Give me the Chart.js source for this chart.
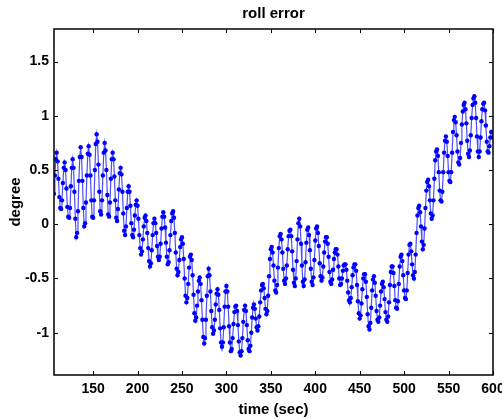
<!DOCTYPE html>
<html>
<head>
<meta charset="utf-8">
<title>roll error</title>
<script src="https://cdn.jsdelivr.net/npm/chart.js@4.4.1/dist/chart.umd.min.js"></script>
<style>
    html, body { margin: 0; padding: 0; background: #fff; }
    #rollChart { display: block; }
</style>
</head>
<body>
<canvas id="rollChart" width="502" height="419"></canvas>
<script>
// sampling of the roll error trace (seconds)
const startTime = 106;
const sampleStep = 1;

// roll error in degrees, one value per second from t = 106 to t = 600
const rollError = [
    0.28, 0.45, 0.60, 0.66,
    0.58, 0.42, 0.25, 0.15, 0.14, 0.22, 0.38, 0.52, 0.57, 0.50,
    0.33, 0.16, 0.07, 0.06, 0.15, 0.35, 0.52, 0.60, 0.52, 0.30,
    0.05, -0.12, -0.08, 0.12, 0.40, 0.62, 0.71, 0.62, 0.40, 0.15,
    -0.02, 0.01, 0.20, 0.45, 0.65, 0.72, 0.64, 0.45, 0.22, 0.07,
    0.06, 0.22, 0.50, 0.74, 0.83, 0.76, 0.55, 0.30, 0.12, 0.09,
    0.22, 0.45, 0.66, 0.75, 0.68, 0.50, 0.27, 0.09, 0.07, 0.20,
    0.42, 0.60, 0.66, 0.60, 0.44, 0.22, 0.06, 0.03, 0.14, 0.32,
    0.47, 0.52, 0.46, 0.30, 0.10, -0.06, -0.10, -0.02, 0.15, 0.30,
    0.35, 0.30, 0.17, 0.01, -0.10, -0.12, -0.05, 0.08, 0.18, 0.22,
    0.17, 0.05, -0.10, -0.22, -0.28, -0.25, -0.14, -0.02, 0.06, 0.08,
    0.03, -0.08, -0.22, -0.34, -0.39, -0.36, -0.24, -0.10, 0.01, 0.05,
    0.01, -0.08, -0.20, -0.30, -0.33, -0.30, -0.18, -0.04, 0.07, 0.11,
    0.07, -0.03, -0.17, -0.30, -0.37, -0.35, -0.24, -0.10, 0.03, 0.10,
    0.12, 0.06, -0.08, -0.26, -0.41, -0.47, -0.44, -0.33, -0.21, -0.14,
    -0.12, -0.18, -0.32, -0.50, -0.66, -0.72, -0.68, -0.55, -0.40, -0.30,
    -0.28, -0.33, -0.47, -0.65, -0.82, -0.89, -0.86, -0.75, -0.62, -0.52,
    -0.49, -0.55, -0.70, -0.88, -1.04, -1.10, -1.05, -0.88, -0.66, -0.48,
    -0.41, -0.47, -0.62, -0.80, -0.95, -1.01, -0.98, -0.88, -0.74, -0.64,
    -0.60, -0.65, -0.79, -0.96, -1.09, -1.13, -1.09, -0.95, -0.76, -0.62,
    -0.57, -0.62, -0.76, -0.94, -1.09, -1.17, -1.15, -1.05, -0.92, -0.81,
    -0.76, -0.75, -0.80, -0.93, -1.08, -1.18, -1.21, -1.17, -1.05, -0.90,
    -0.79, -0.75, -0.80, -0.93, -1.07, -1.15, -1.17, -1.12, -1.00, -0.86,
    -0.77, -0.74, -0.78, -0.87, -0.95, -0.98, -0.94, -0.85, -0.72, -0.61,
    -0.56, -0.55, -0.59, -0.68, -0.78, -0.83, -0.80, -0.66, -0.48, -0.32,
    -0.23, -0.21, -0.26, -0.38, -0.52, -0.61, -0.63, -0.56, -0.40, -0.22,
    -0.11, -0.09, -0.14, -0.26, -0.41, -0.52, -0.55, -0.50, -0.38, -0.23,
    -0.11, -0.06, -0.05, -0.11, -0.25, -0.42, -0.54, -0.57, -0.50, -0.34,
    -0.14, 0.01, 0.05, -0.02, -0.18, -0.38, -0.53, -0.57, -0.51, -0.35,
    -0.17, -0.05, -0.03, -0.10, -0.24, -0.41, -0.53, -0.56, -0.49, -0.33,
    -0.15, -0.04, -0.02, -0.08, -0.20, -0.36, -0.48, -0.52, -0.49, -0.39,
    -0.26, -0.16, -0.12, -0.12, -0.18, -0.30, -0.44, -0.53, -0.55, -0.51,
    -0.42, -0.32, -0.26, -0.23, -0.23, -0.28, -0.39, -0.50, -0.56, -0.55,
    -0.50, -0.43, -0.38, -0.37, -0.37, -0.42, -0.52, -0.63, -0.70, -0.72,
    -0.68, -0.58, -0.47, -0.40, -0.37, -0.37, -0.43, -0.56, -0.71, -0.82,
    -0.87, -0.84, -0.73, -0.60, -0.50, -0.46, -0.46, -0.53, -0.67, -0.83,
    -0.94, -0.97, -0.91, -0.77, -0.61, -0.51, -0.48, -0.54, -0.66, -0.80,
    -0.88, -0.90, -0.86, -0.75, -0.62, -0.55, -0.53, -0.58, -0.69, -0.81,
    -0.88, -0.90, -0.85, -0.72, -0.56, -0.44, -0.39, -0.39, -0.45, -0.57,
    -0.70, -0.77, -0.78, -0.71, -0.55, -0.39, -0.30, -0.28, -0.34, -0.47,
    -0.61, -0.68, -0.69, -0.61, -0.45, -0.28, -0.19, -0.18, -0.25, -0.37,
    -0.47, -0.50, -0.44, -0.28, -0.08, 0.08, 0.15, 0.17, 0.11, -0.02,
    -0.16, -0.23, -0.19, -0.04, 0.15, 0.31, 0.39, 0.41, 0.35, 0.22,
    0.10, 0.05, 0.08, 0.22, 0.42, 0.59, 0.67, 0.69, 0.63, 0.48,
    0.31, 0.22, 0.21, 0.30, 0.48, 0.66, 0.77, 0.81, 0.76, 0.63,
    0.48, 0.40, 0.39, 0.48, 0.66, 0.85, 0.96, 0.99, 0.94, 0.82,
    0.67, 0.57, 0.55, 0.61, 0.75, 0.92, 1.04, 1.10, 1.12, 1.06,
    0.93, 0.77, 0.65, 0.62, 0.68, 0.82, 0.98, 1.10, 1.16, 1.18,
    1.12, 0.98, 0.81, 0.67, 0.62, 0.67, 0.80, 0.95, 1.06, 1.11,
    1.12, 1.05, 0.91, 0.76, 0.67, 0.66, 0.72, 0.80, 0.85, 0.85,
    0.80
];

const xTicks = [150, 200, 250, 300, 350, 400, 450, 500, 550, 600];
const yTicks = [-1, -0.5, 0, 0.5, 1, 1.5];

const FONT = '"Liberation Sans", Arial, Helvetica, sans-serif';
const tickFont = { family: FONT, size: 14, weight: 'bold' };
const titleFont = { family: FONT, size: 15, weight: 'bold' };

// MATLAB style box with inward ticks on all four sides
const boxTicks = {
    id: 'boxTicks',
    afterDraw(chart) {
        const { ctx, chartArea: a, scales } = chart;
        const len = 4;
        ctx.save();
        ctx.strokeStyle = '#000';
        ctx.lineWidth = 1;
        ctx.beginPath();
        xTicks.forEach(v => {
            const px = Math.round(scales.x.getPixelForValue(v)) + 0.5;
            ctx.moveTo(px, a.bottom); ctx.lineTo(px, a.bottom - len);
            ctx.moveTo(px, a.top); ctx.lineTo(px, a.top + len);
        });
        yTicks.forEach(v => {
            const py = Math.round(scales.y.getPixelForValue(v)) + 0.5;
            ctx.moveTo(a.left, py); ctx.lineTo(a.left + len, py);
            ctx.moveTo(a.right, py); ctx.lineTo(a.right - len, py);
        });
        ctx.stroke();
        ctx.lineWidth = 1.5;
        ctx.strokeRect(a.left, a.top, a.right - a.left, a.bottom - a.top);
        ctx.restore();
    }
};

new Chart(document.getElementById('rollChart'), {
    type: 'line',
    data: {
        datasets: [{
            data: rollError.map((v, i) => ({ x: startTime + i * sampleStep, y: v })),
            borderColor: 'rgba(0, 0, 255, 0.7)',
            borderWidth: 1.2,
            pointRadius: 2.2,
            pointBackgroundColor: '#0000ff',
            pointBorderWidth: 0,
            tension: 0
        }]
    },
    options: {
        responsive: false,
        animation: false,
        layout: { padding: { top: 0, right: 9, bottom: 0, left: 0 } },
        plugins: {
            legend: { display: false },
            tooltip: { enabled: false },
            title: {
                display: true,
                fullSize: false,
                text: 'roll error',
                color: '#000',
                font: titleFont,
                padding: { top: 5, bottom: 6 }
            }
        },
        scales: {
            x: {
                type: 'linear',
                min: 106,
                max: 600,
                afterBuildTicks: s => { s.ticks = xTicks.map(v => ({ value: v })); },
                afterFit: s => { s.height = 44; s.paddingLeft = 0; s.paddingRight = 0; },
                grid: { drawOnChartArea: false, drawTicks: false },
                border: { display: false },
                ticks: { color: '#000', font: tickFont, padding: 6, maxRotation: 0, autoSkip: false },
                title: { display: true, text: 'time (sec)', color: '#000', font: titleFont, padding: 0 }
            },
            y: {
                min: -1.39,
                max: 1.8,
                afterBuildTicks: s => { s.ticks = yTicks.map(v => ({ value: v })); },
                afterFit: s => { s.width = 54; },
                grid: { drawOnChartArea: false, drawTicks: false },
                border: { display: false },
                ticks: { color: '#000', font: tickFont, padding: 5, callback: v => String(v) },
                title: { display: true, text: 'degree', color: '#000', font: titleFont, padding: 7 }
            }
        }
    },
    plugins: [boxTicks]
});
</script>
</body>
</html>
